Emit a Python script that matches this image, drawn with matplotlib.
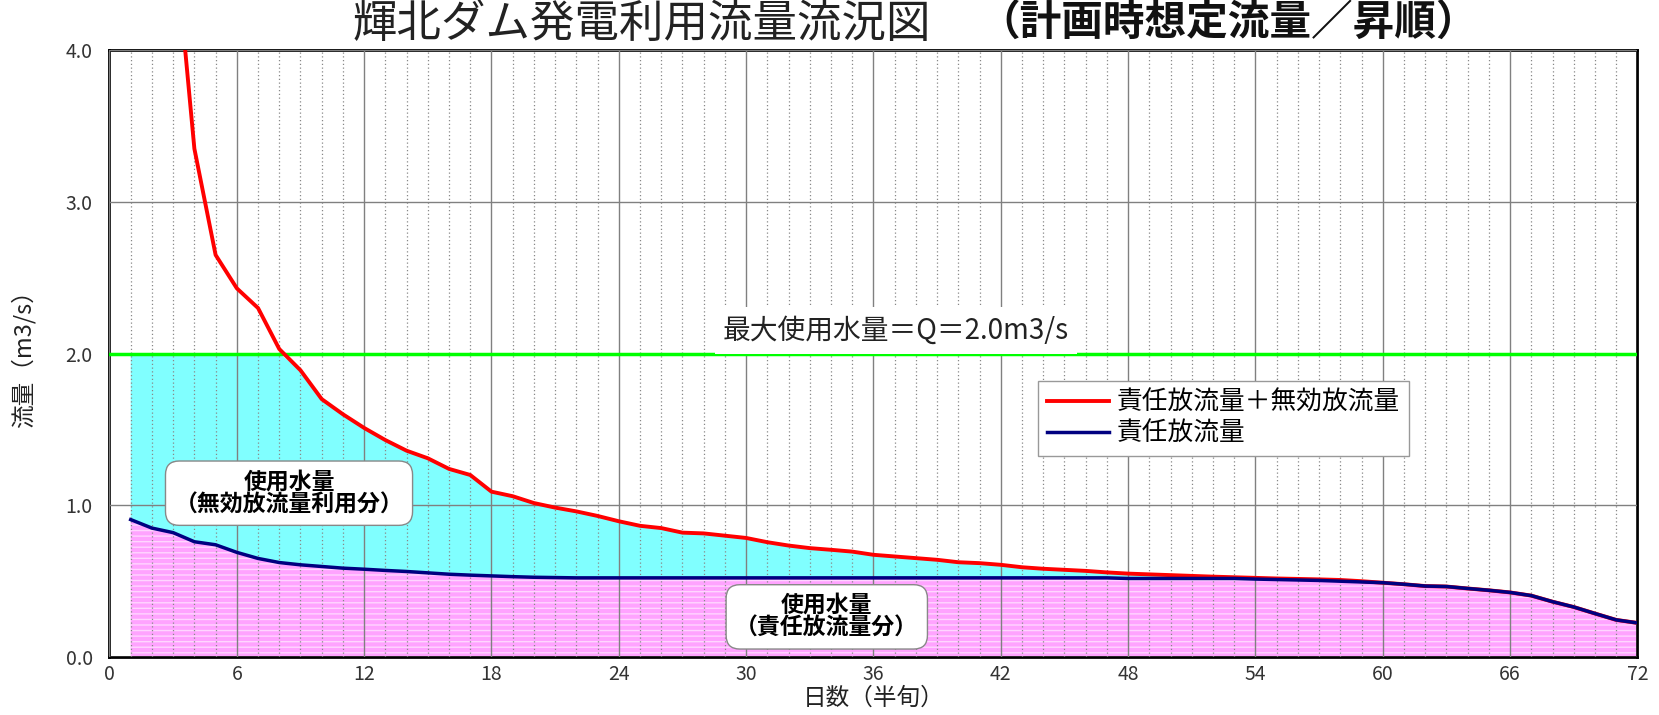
import numpy as np
import matplotlib.pyplot as plt
from matplotlib.ticker import MultipleLocator

plt.rcParams['font.family'] = ['Noto Sans CJK JP', 'DejaVu Sans']
plt.rcParams['hatch.linewidth'] = 1.0

# 半旬 (1..72)
days = np.arange(1, 73)

# 責任放流量＋無効放流量 (m3/s)
total_flow = [8.0, 6.2, 4.85, 3.35, 2.65, 2.43, 2.30, 2.03, 1.89, 1.70,
              1.60, 1.51, 1.43, 1.36, 1.31, 1.24, 1.20, 1.09, 1.06, 1.015,
              0.985, 0.96, 0.93, 0.895, 0.865, 0.85, 0.82, 0.815, 0.80, 0.785,
              0.757, 0.735, 0.718, 0.707, 0.695, 0.674, 0.663, 0.652, 0.641, 0.625,
              0.619, 0.608, 0.592, 0.582, 0.575, 0.568, 0.558, 0.55, 0.545, 0.54,
              0.535, 0.53, 0.526, 0.522, 0.518, 0.515, 0.512, 0.508, 0.500, 0.49,
              0.48, 0.468, 0.465, 0.452, 0.44, 0.426, 0.405, 0.365, 0.33, 0.287,
              0.245, 0.225]

# 責任放流量 (m3/s)
duty_flow = [0.906, 0.85, 0.82, 0.76, 0.74, 0.69, 0.65, 0.623, 0.608, 0.597,
             0.586, 0.579, 0.571, 0.564, 0.555, 0.546, 0.540, 0.535, 0.530, 0.526,
             0.524, 0.522, 0.522, 0.522, 0.522, 0.522, 0.522, 0.522, 0.522, 0.522,
             0.522, 0.522, 0.522, 0.522, 0.522, 0.522, 0.522, 0.522, 0.522, 0.522,
             0.522, 0.522, 0.522, 0.522, 0.522, 0.522, 0.522, 0.518, 0.518, 0.518,
             0.518, 0.518, 0.518, 0.514, 0.511, 0.508, 0.505, 0.500, 0.495, 0.49,
             0.48, 0.468, 0.465, 0.452, 0.44, 0.426, 0.405, 0.365, 0.33, 0.287,
             0.245, 0.225]

max_use = 2.0  # 最大使用水量

total_flow = np.array(total_flow)
duty_flow = np.array(duty_flow)
usable = np.minimum(total_flow, max_use)

fig = plt.figure(figsize=(16.59, 7.15), dpi=100)
ax = fig.add_axes([0.066, 0.081, 0.921, 0.849])

# fills
ax.fill_between(days, 0, duty_flow, facecolor='#FFA3FF', edgecolor='#FFD6FF',
                hatch='---', linewidth=0, zorder=1)
ax.fill_between(days, duty_flow, usable, where=usable >= duty_flow,
                facecolor='#80FFFF', linewidth=0, zorder=1)

# lines
ax.axhline(max_use, color='#00FF00', lw=2.5, zorder=3)
ax.plot(days, total_flow, color='#FF0000', lw=2.8, zorder=4, label='責任放流量＋無効放流量')
ax.plot(days, duty_flow, color='#000080', lw=2.5, zorder=5, label='責任放流量')

ax.set_xlim(0, 72)
ax.set_ylim(0, 4.0)
ax.xaxis.set_major_locator(MultipleLocator(6))
ax.xaxis.set_minor_locator(MultipleLocator(1))
ax.yaxis.set_major_locator(MultipleLocator(1))
ax.yaxis.set_major_formatter(lambda v, p: f'{v:.1f}')
ax.tick_params(which='both', length=0)
ax.tick_params(axis='x', pad=5, labelsize=14, colors='#333333')
ax.tick_params(axis='y', pad=12, labelsize=14, colors='#333333')

ax.grid(which='major', axis='both', color='#808080', lw=1.0, ls='-')
ax.grid(which='minor', axis='x', color='#888888', lw=0.9, ls=(0, (1, 2)))
ax.set_axisbelow(False)
for s in ax.spines.values():
    s.set_linewidth(2)
    s.set_color('black')

ax.set_xlabel('日数（半旬）', fontsize=17, color='#222222', labelpad=1)
ax.set_ylabel('流量（m3/s）', fontsize=17, color='#222222', labelpad=22)

# annotations
ax.text(37.06, 2.15, '最大使用水量＝Q＝2.0m3/s', ha='center', va='center', fontsize=20,
        color='#222222', zorder=6,
        bbox=dict(boxstyle='square,pad=0.3', fc='white', ec='none'))
box = dict(boxstyle='round,pad=0.4,rounding_size=0.6', fc='white', ec='#888888', lw=1)
ax.text(8.46, 1.08, '使用水量\n（無効放流量利用分）', ha='center', va='center', fontsize=16.5,
        fontweight='bold', linespacing=1.0, zorder=6, bbox=box)
ax.text(33.8, 0.265, '使用水量\n（責任放流量分）', ha='center', va='center', fontsize=16.5,
        fontweight='bold', linespacing=1.0, zorder=6, bbox=box)

leg = ax.legend(loc='upper left', bbox_to_anchor=(0.608, 0.455), fontsize=18.5,
                fancybox=False, framealpha=1, edgecolor='#999999',
                handlelength=2.4, handletextpad=0.3, borderpad=0.35,
                labelspacing=0.2, borderaxespad=0)
leg.set_zorder(7)
leg.get_frame().set_linewidth(1)

fig.text(0.561, 0.966, '輝北ダム発電利用流量流況図', ha='right', va='center',
         fontsize=32, color='#222222')
fig.text(0.590, 0.966, '（計画時想定流量／昇順）', ha='left', va='center',
         fontsize=30, fontweight='bold', color='#111111')

fig.savefig('out.png', dpi=100)
